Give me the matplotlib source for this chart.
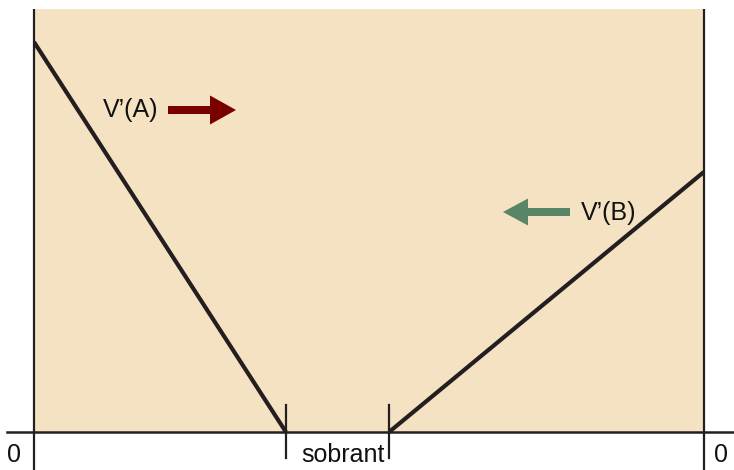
import matplotlib
matplotlib.use("Agg")
import matplotlib.pyplot as plt
from matplotlib.patches import FancyArrow

plt.rcParams['font.family'] = ['Liberation Sans', 'DejaVu Sans']

# Data (x: 0..100 quantity axis, y: 0..100 marginal value)
line_a_x = [0.0, 37.6]
line_a_y = [92.2, 0.0]
line_b_x = [53.0, 100.0]
line_b_y = [0.0, 61.5]
tick_x = [37.6, 53.0]
labels = ["V\u2019(A)", "V\u2019(B)"]
gap_label = "sobrant"
zero_label = "0"

W, H = 734, 470
fig = plt.figure(figsize=(W / 100, H / 100), dpi=100)
left, right, top, bottom = 34, 704, 9, 432
ax = fig.add_axes([left / W, (H - bottom) / H, (right - left) / W, (bottom - top) / H])
ax.set_xlim(0, 100)
ax.set_ylim(0, 100)
ax.set_facecolor('#F5E2C2')
for s in ax.spines.values():
    s.set_visible(False)
ax.set_xticks([])
ax.set_yticks([])

px = 100 / (right - left)   # data units per pixel in x
py = 100 / (bottom - top)   # data units per pixel in y

axis_col = '#231F20'
txt_col = '#111111'
fs = 18
# vertical borders
ax.plot([0, 0], [100, -38 * py], color=axis_col, lw=1.6, clip_on=False, solid_capstyle='butt')
ax.plot([100, 100], [100, -38 * py], color=axis_col, lw=1.6, clip_on=False, solid_capstyle='butt')
# horizontal axis
ax.plot([-27 * px, 100 + 30 * px], [0, 0], color=axis_col, lw=1.8, clip_on=False)

# curves
ax.plot(line_a_x, line_a_y, color=axis_col, lw=3, solid_capstyle='butt', zorder=3)
ax.plot(line_b_x, line_b_y, color=axis_col, lw=3, solid_capstyle='butt', zorder=3)

# ticks
for tx in tick_x:
    ax.plot([tx, tx], [27 * py, -26 * py], color=axis_col, lw=1.6, clip_on=False)

# labels
ax.text(-20 * px, -23 * py, zero_label, ha='center', va='center', fontsize=fs, color=txt_col)
ax.text(100 + 17 * px, -23 * py, zero_label, ha='center', va='center', fontsize=fs, color=txt_col)
ax.text((tick_x[0] + tick_x[1]) / 2 + 5 * px, -23 * py, gap_label, ha='center', va='center', fontsize=fs, color=txt_col)

ax.text((131 - left) * px, (bottom - 110) * py, labels[0], ha='center', va='center', fontsize=fs, color=txt_col)
ax.text((609 - left) * px, (bottom - 213) * py, labels[1], ha='center', va='center', fontsize=fs, color=txt_col)

# arrows
ax.add_patch(FancyArrow((168 - left) * px, (bottom - 110) * py, (236 - 168) * px, 0,
                        width=8 * py, head_width=29 * py, head_length=26 * px,
                        length_includes_head=True, color='#7A0000', lw=0))
ax.add_patch(FancyArrow((570 - left) * px, (bottom - 212) * py, (503 - 570) * px, 0,
                        width=8 * py, head_width=27 * py, head_length=25 * px,
                        length_includes_head=True, color='#578565', lw=0))

fig.savefig('out.png', dpi=100, facecolor='white')
